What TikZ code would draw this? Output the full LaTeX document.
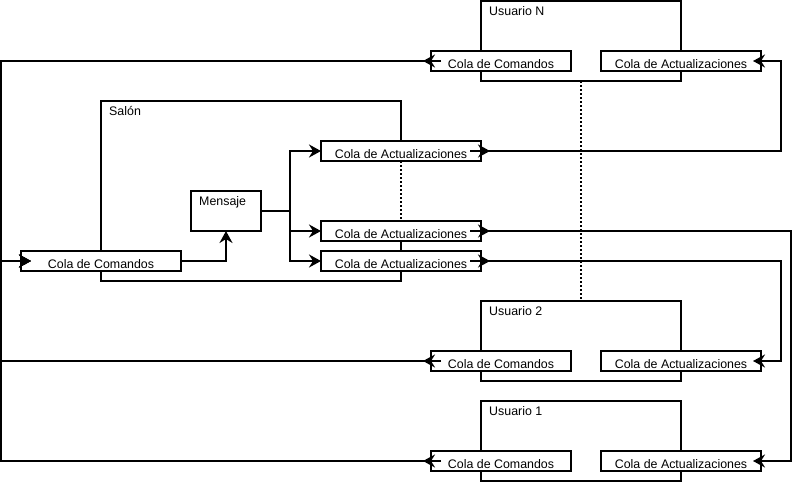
\documentclass[tikz,border=0pt]{standalone}
\usepackage{fontspec}
\setmainfont{Liberation Sans}
\usetikzlibrary{arrows.meta,decorations.markings,calc}
\pgfdeclarelayer{background}
\pgfsetlayers{background,main}

\tikzset{
  txt/.style={font=\fontsize{12.4pt}{14pt}\selectfont},
  frame/.style={draw, fill=white, line width=2pt, inner sep=0pt, outer sep=0pt,
    minimum width=200pt, minimum height=80pt},
  queue/.style={draw, fill=white, line width=2pt, inner sep=0pt, outer sep=0pt,
    minimum height=20pt, text height=14pt, text depth=0pt, txt},
  cmdq/.style={queue, minimum width=140pt},
  updq/.style={queue, minimum width=160pt},
  msgbox/.style={draw, fill=white, line width=2pt, inner sep=0pt, outer sep=0pt,
    minimum width=70pt, minimum height=40pt},
  tag/.style={anchor=base west, inner sep=0pt, txt},
  dots/.style={line width=2pt, dash pattern=on 2pt off 2pt},
  headtip/.tip={Stealth[length=12pt,width=13pt,inset=4pt]},
  conn/.style={line width=2pt, -headtip},
  plain/.style={line width=2pt},
  outtip/.style={postaction={decorate, decoration={markings,
    mark=at position #1 with {\arrow{headtip}}}}},
}

\begin{document}
\begin{tikzpicture}[x=1pt, y=-1pt]
\useasboundingbox (0,0) rectangle (792,482);

% rails used by the long connectors
\coordinate (railL) at (1,0);
\coordinate (railR) at (781,0);
\coordinate (railRR) at (791,0);

% Usuario N
\node[frame] (uN) at (581,41) {};
\node[tag] (uNtag) at ([shift={(8pt,-14pt)}]uN.north west) {Usuario N};
\node[cmdq] (ccN) at (501,61) {Cola de Comandos};
\node[updq] (caN) at (681,61) {Cola de Actualizaciones};

% Usuario 2
\node[frame] (u2) at (581,341) {};
\node[tag] (u2tag) at ([shift={(8pt,-14pt)}]u2.north west) {Usuario 2};
\node[cmdq] (cc2) at (501,361) {Cola de Comandos};
\node[updq] (ca2u) at (681,361) {Cola de Actualizaciones};

% Usuario 1
\node[frame] (u1) at (581,441) {};
\node[tag] (u1tag) at ([shift={(8pt,-14pt)}]u1.north west) {Usuario 1};
\node[cmdq] (cc1) at (501,461) {Cola de Comandos};
\node[updq] (ca1u) at (681,461) {Cola de Actualizaciones};

% Salón
\node[inner sep=0pt, outer sep=0pt, minimum width=300pt, minimum height=180pt] (salon) at (251,191) {};
\node[tag] (salontag) at ([shift={(8pt,-14pt)}]salon.north west) {Salón};
\node[msgbox] (msg) at (226,211) {};
\node[tag] (msgtag) at ([shift={(8pt,-14pt)}]msg.north west) {Mensaje};
\node[cmdq, minimum width=160pt] (ccS) at (101,261) {Cola de Comandos};
\node[updq] (ca1) at (401,151) {Cola de Actualizaciones};
\node[updq] (ca2) at (401,231) {Cola de Actualizaciones};
\node[updq] (ca3) at (401,261) {Cola de Actualizaciones};

\begin{pgfonlayer}{background}
  \draw[plain] (salon.east |- ca2.north) -- (salon.south east) -- (salon.south west)
    -- (salon.north west) -- (salon.north east) -- (salon.east |- ca1.south);
\end{pgfonlayer}

% dotted continuations
\draw[dots] (ca1.south) -- (ca2.north);
\draw[dots] (uN.south) -- (u2.north);

% inside the Salón
\draw[conn] (ccS.east) -| (msg.south);
\coordinate (fork) at ([xshift=29pt]msg.east);
\draw[plain] (msg.east) -- (fork);
\draw[conn] (fork) |- (ca1.west);
\draw[conn] (fork) |- (ca2.west);
\draw[conn] (fork) |- (ca3.west);

% updates to the users
\draw[conn, outtip=20pt] ([xshift=-11pt]ca1.east) -- (ca1.east -| railR)
  |- ([xshift=-8pt]caN.east);
\draw[conn, outtip=20pt] ([xshift=-11pt]ca2.east) -- (ca2.east -| railRR)
  |- ([xshift=-8pt]ca1u.east);
\draw[conn, outtip=20pt] ([xshift=-11pt]ca3.east) -- (ca3.east -| railR)
  |- ([xshift=-8pt]ca2u.east);

% commands back to the Salón
\draw[conn, outtip=18pt] ([xshift=10pt]ccN.west) -- (ccN.west -| railL)
  -- (ccS.west -| railL) -- ([xshift=10pt]ccS.west);
\draw[conn, outtip=18pt] ([xshift=10pt]cc2.west) -- (cc2.west -| railL)
  -- (ccS.west -| railL) -- ([xshift=10pt]ccS.west);
\draw[conn, outtip=18pt] ([xshift=10pt]cc1.west) -- (cc1.west -| railL)
  -- (ccS.west -| railL) -- ([xshift=10pt]ccS.west);
\end{tikzpicture}
\end{document}
